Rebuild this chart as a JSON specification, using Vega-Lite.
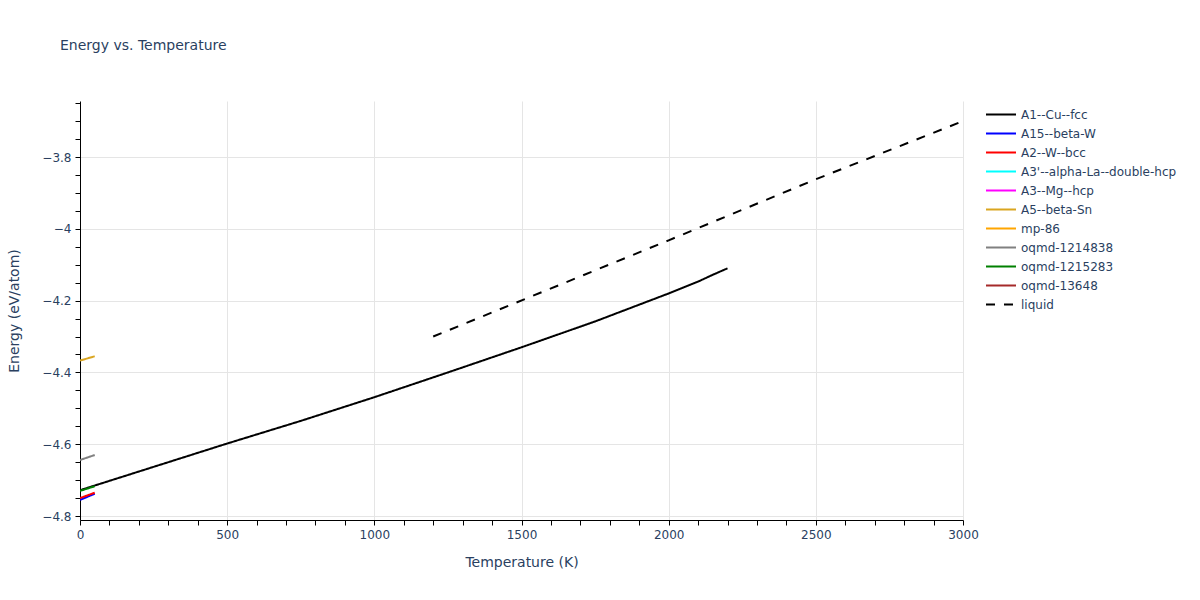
{
  "$schema": "https://vega.github.io/schema/vega-lite/v6.json",
  "autosize": "none",
  "width": 883,
  "height": 419,
  "padding": {"left": 80, "top": 101, "right": 237, "bottom": 80},
  "background": "white",
  "title": {
    "text": "Energy vs. Temperature",
    "anchor": "start",
    "frame": "group",
    "dx": -20,
    "offset": 37,
    "baseline": "alphabetic",
    "font": "DejaVu Sans",
    "fontSize": 14,
    "fontWeight": "normal",
    "color": "#2a3f5f"
  },
  "config": {
    "view": {"stroke": null},
    "font": "DejaVu Sans"
  },
  "data": {
    "values": [
      {"series": "A1--Cu--fcc", "T": 0, "E": -4.728},
      {"series": "A1--Cu--fcc", "T": 250, "E": -4.663},
      {"series": "A1--Cu--fcc", "T": 500, "E": -4.598},
      {"series": "A1--Cu--fcc", "T": 750, "E": -4.535},
      {"series": "A1--Cu--fcc", "T": 1000, "E": -4.469},
      {"series": "A1--Cu--fcc", "T": 1250, "E": -4.400},
      {"series": "A1--Cu--fcc", "T": 1500, "E": -4.330},
      {"series": "A1--Cu--fcc", "T": 1750, "E": -4.258},
      {"series": "A1--Cu--fcc", "T": 2000, "E": -4.180},
      {"series": "A1--Cu--fcc", "T": 2100, "E": -4.147},
      {"series": "A1--Cu--fcc", "T": 2150, "E": -4.128},
      {"series": "A1--Cu--fcc", "T": 2200, "E": -4.110},
      {"series": "A15--beta-W", "T": 0, "E": -4.755},
      {"series": "A15--beta-W", "T": 50, "E": -4.738},
      {"series": "A2--W--bcc", "T": 0, "E": -4.750},
      {"series": "A2--W--bcc", "T": 50, "E": -4.735},
      {"series": "A5--beta-Sn", "T": 0, "E": -4.367},
      {"series": "A5--beta-Sn", "T": 50, "E": -4.355},
      {"series": "oqmd-1214838", "T": 0, "E": -4.644},
      {"series": "oqmd-1214838", "T": 50, "E": -4.630},
      {"series": "oqmd-1215283", "T": 0, "E": -4.730},
      {"series": "oqmd-1215283", "T": 50, "E": -4.717},
      {"series": "liquid", "T": 1200, "E": -4.300},
      {"series": "liquid", "T": 2000, "E": -4.032},
      {"series": "liquid", "T": 2500, "E": -3.862},
      {"series": "liquid", "T": 3000, "E": -3.700}
    ]
  },
  "mark": {"type": "line", "strokeWidth": 2, "clip": true},
  "encoding": {
    "x": {
      "field": "T",
      "type": "quantitative",
      "scale": {"domain": [0, 3000], "nice": false, "zero": false},
      "axis": {
        "title": "Temperature (K)",
        "values": [0,100,200,300,400,500,600,700,800,900,1000,1100,1200,1300,1400,1500,1600,1700,1800,1900,2000,2100,2200,2300,2400,2500,2600,2700,2800,2900,3000],
        "labelExpr": "datum.value % 500 === 0 ? format(datum.value, 'd') : ''",
        "gridColor": "#e5e5e5",
        "gridOpacity": {"condition": {"test": "datum.value % 500 === 0 && datum.value > 0", "value": 1}, "value": 0},
        "domainColor": "#000000",
        "domainWidth": 1,
        "tickColor": "#000000",
        "tickSize": 5,
        "labelFont": "DejaVu Sans",
        "labelFontSize": 12,
        "labelColor": "#2a3f5f",
        "labelPadding": 4,
        "labelFlush": false,
        "titleFont": "DejaVu Sans",
        "titleFontSize": 14,
        "titleFontWeight": "normal",
        "titleColor": "#2a3f5f",
        "titlePadding": 15
      }
    },
    "y": {
      "field": "E",
      "type": "quantitative",
      "scale": {"domain": [-4.811, -3.644], "nice": false, "zero": false},
      "axis": {
        "title": "Energy (eV/atom)",
        "values": [-4.8,-4.75,-4.7,-4.65,-4.6,-4.55,-4.5,-4.45,-4.4,-4.35,-4.3,-4.25,-4.2,-4.15,-4.1,-4.05,-4.0,-3.95,-3.9,-3.85,-3.8,-3.75,-3.7,-3.65],
        "labelExpr": "round(datum.value * 20) % 4 === 0 ? format(datum.value, '.1~f') : ''",
        "gridColor": "#e5e5e5",
        "gridOpacity": {"condition": {"test": "round(datum.value * 20) % 4 === 0", "value": 1}, "value": 0},
        "domainColor": "#000000",
        "domainWidth": 1,
        "tickColor": "#000000",
        "tickSize": 5,
        "labelFont": "DejaVu Sans",
        "labelFontSize": 12,
        "labelColor": "#2a3f5f",
        "labelPadding": 4,
        "labelFlush": false,
        "titleFont": "DejaVu Sans",
        "titleFontSize": 14,
        "titleFontWeight": "normal",
        "titleColor": "#2a3f5f",
        "titlePadding": 20
      }
    },
    "color": {
      "field": "series",
      "type": "nominal",
      "scale": {
        "domain": ["A1--Cu--fcc","A15--beta-W","A2--W--bcc","A3'--alpha-La--double-hcp","A3--Mg--hcp","A5--beta-Sn","mp-86","oqmd-1214838","oqmd-1215283","oqmd-13648","liquid"],
        "range": ["#000000","#0000ff","#ff0000","#00ffff","#ff00ff","#daa520","#ffa500","#808080","#008000","#a52a2a","#000000"]
      },
      "legend": {
        "title": null,
        "orient": "none",
        "legendX": 905,
        "legendY": 4,
        "symbolType": "stroke",
        "symbolSize": 900,
        "symbolStrokeWidth": 2,
        "labelFont": "DejaVu Sans",
        "labelFontSize": 12,
        "labelColor": "#2a3f5f",
        "labelOffset": 4,
        "labelLimit": 300,
        "rowPadding": 0,
        "clipHeight": 19
      }
    },
    "strokeDash": {
      "field": "series",
      "type": "nominal",
      "scale": {
        "domain": ["A1--Cu--fcc","A15--beta-W","A2--W--bcc","A3'--alpha-La--double-hcp","A3--Mg--hcp","A5--beta-Sn","mp-86","oqmd-1214838","oqmd-1215283","oqmd-13648","liquid"],
        "range": [[1,0],[1,0],[1,0],[1,0],[1,0],[1,0],[1,0],[1,0],[1,0],[1,0],[9,9]]
      },
      "legend": null
    }
  }
}
